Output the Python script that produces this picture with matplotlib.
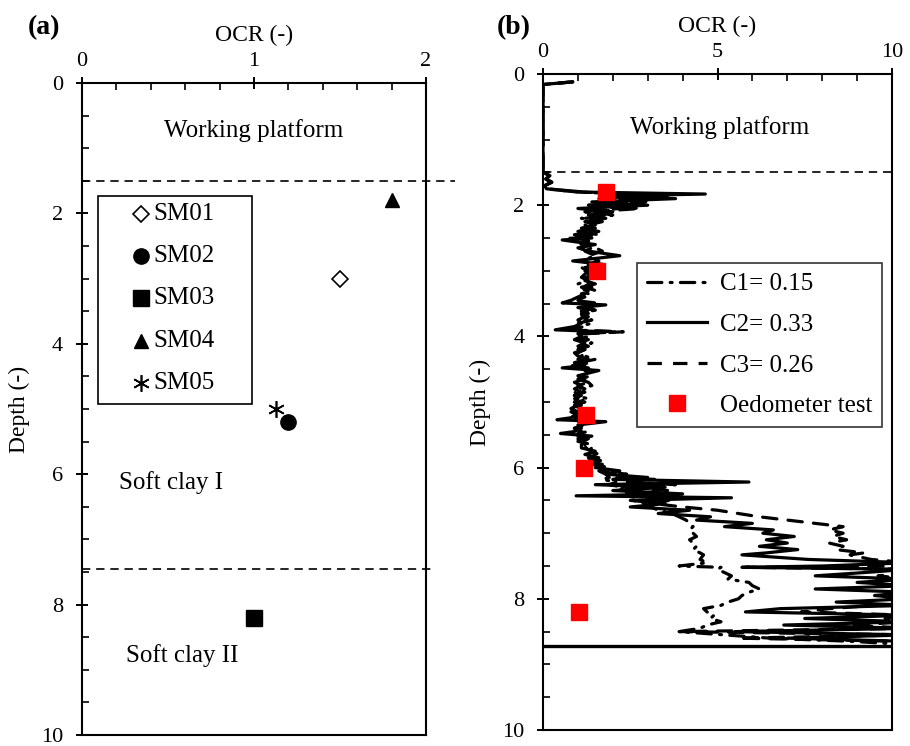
import matplotlib
matplotlib.use("Agg")
import matplotlib.pyplot as plt
from matplotlib.ticker import MultipleLocator
from matplotlib.lines import Line2D
from matplotlib.patches import Rectangle

plt.rcParams["font.family"] = ["Liberation Serif", "DejaVu Serif"]

# ---- panel (a): laboratory OCR by sample ----
SAMPLES = ["SM01", "SM02", "SM03", "SM04", "SM05"]
SAMPLE_OCR = [1.50, 1.20, 1.00, 1.80, 1.13]
SAMPLE_DEPTH = [3.00, 5.20, 8.20, 1.80, 5.00]

# ---- panel (b): oedometer points ----
OED_OCR = [1.80, 1.55, 1.22, 1.18, 1.02]
OED_DEPTH = [1.80, 3.00, 5.20, 6.00, 8.20]

# ---- panel (b): CPT based OCR profiles ----
DEPTH = [
    0.12, 0.16, 1.50, 1.55, 1.60, 1.65, 1.70, 1.75, 1.80, 1.83,
    1.86, 1.90, 1.95, 2.00, 2.05, 2.10, 2.15, 2.20, 2.25, 2.30,
    2.35, 2.40, 2.45, 2.50, 2.53, 2.60, 2.65, 2.70, 2.77, 2.85,
    2.90, 2.95, 3.00, 3.05, 3.10, 3.15, 3.20, 3.25, 3.30, 3.35,
    3.40, 3.45, 3.49, 3.52, 3.56, 3.60, 3.65, 3.70, 3.75, 3.80,
    3.85, 3.90, 3.93, 3.96, 4.00, 4.05, 4.10, 4.15, 4.20, 4.25,
    4.30, 4.35, 4.40, 4.45, 4.48, 4.52, 4.60, 4.65, 4.70, 4.75,
    4.80, 4.85, 4.90, 4.95, 5.00, 5.05, 5.10, 5.15, 5.20, 5.24,
    5.27, 5.30, 5.35, 5.40, 5.45, 5.48, 5.52, 5.56, 5.60, 5.65,
    5.70, 5.75, 5.80, 5.85, 5.90, 5.95, 6.00, 6.05, 6.10, 6.15,
    6.18, 6.22, 6.26, 6.30, 6.35, 6.40, 6.43, 6.46, 6.50, 6.55,
    6.60, 6.65, 6.70, 6.75, 6.80, 6.85, 6.90, 6.95, 7.00, 7.05,
    7.10, 7.15, 7.20, 7.25, 7.30, 7.33, 7.40, 7.45, 7.50, 7.52,
    7.55, 7.60, 7.65, 7.70, 7.75, 7.80, 7.85, 7.90, 7.95, 8.00,
    8.05, 8.10, 8.15, 8.20, 8.25, 8.30, 8.35, 8.40, 8.45, 8.50,
    8.55, 8.60, 8.65, 8.70,
]

OCR_C1 = [
    0.85, 0.00, 0.00, 0.20, 0.08, 0.25, 0.05, 0.10, 1.00, 2.50,
    2.60, 1.60, 2.40, 1.30, 2.20, 1.20, 1.80, 1.10, 1.60, 1.20,
    1.40, 1.00, 1.50, 0.80, 1.30, 1.00, 1.40, 1.20, 1.50, 1.10,
    1.40, 1.10, 1.30, 1.20, 1.10, 1.30, 1.00, 1.40, 1.10, 1.30,
    1.10, 1.00, 1.20, 1.40, 1.10, 1.50, 1.00, 1.30, 1.20, 1.40,
    1.00, 0.80, 2.10, 1.10, 1.30, 1.00, 1.40, 1.10, 1.20, 1.00,
    1.20, 1.50, 1.00, 1.30, 1.10, 1.40, 1.20, 1.00, 1.30, 1.40,
    1.00, 1.20, 0.90, 1.30, 1.00, 1.10, 0.90, 1.20, 1.00, 0.90,
    1.10, 1.00, 1.20, 0.90, 1.10, 1.20, 1.00, 1.30, 1.10, 1.20,
    1.40, 1.30, 1.50, 1.40, 1.60, 1.50, 1.70, 1.60, 1.80, 1.90,
    1.70, 2.10, 1.90, 2.30, 2.20, 2.50, 2.40, 2.70, 2.60, 2.90,
    3.10, 3.30, 3.70, 3.90, 4.10, 4.20, 4.30, 4.20, 4.30, 4.40,
    4.20, 4.30, 4.40, 4.30, 4.50, 4.60, 4.50, 4.70, 3.90, 5.10,
    5.00, 5.20, 5.40, 5.30, 5.90, 6.00, 6.20, 5.90, 5.70, 5.60,
    5.30, 5.10, 4.60, 4.70, 4.90, 4.80, 5.10, 4.70, 4.50, 3.90,
    5.20, 6.50, 8.90, 10.50,
]

OCR_C2 = [
    0.85, 0.00, 0.00, 0.20, 0.08, 0.25, 0.05, 0.10, 1.20, 4.65,
    1.80, 3.80, 1.40, 3.00, 1.00, 2.00, 1.30, 1.80, 1.20, 1.50,
    1.10, 1.60, 0.90, 1.40, 0.55, 1.50, 1.00, 1.30, 2.20, 0.85,
    1.70, 1.20, 1.50, 1.30, 1.40, 1.20, 1.50, 1.10, 1.30, 1.20,
    1.00, 0.80, 0.55, 1.80, 1.00, 1.30, 1.10, 1.20, 1.00, 1.10,
    0.90, 0.35, 1.80, 1.00, 1.10, 0.90, 1.20, 1.00, 1.20, 0.90,
    1.00, 1.30, 0.90, 1.10, 0.55, 1.60, 1.00, 1.20, 0.90, 1.10,
    0.90, 1.10, 0.90, 1.00, 0.90, 1.00, 0.80, 1.00, 0.90, 0.80,
    0.40, 1.80, 1.00, 1.10, 0.90, 0.50, 1.40, 1.00, 1.20, 1.10,
    1.10, 1.50, 1.20, 1.60, 1.30, 1.70, 1.50, 2.20, 1.80, 3.00,
    2.00, 5.90, 1.50, 3.50, 2.00, 4.00, 0.95, 5.40, 2.50, 3.50,
    2.50, 4.20, 3.30, 4.80, 4.40, 6.00, 5.20, 6.60, 6.30, 7.20,
    6.40, 7.00, 6.20, 7.30, 6.40, 5.70, 7.60, 10.50, 8.00, 5.70,
    10.50, 9.20, 7.80, 10.50, 9.00, 10.50, 7.80, 10.50, 9.50, 10.50,
    8.40, 10.50, 6.80, 5.80, 10.50, 7.50, 10.50, 6.90, 10.50, 5.50,
    10.50, 7.00, 10.50, 10.50,
]

OCR_C3 = [
    0.85, 0.00, 0.00, 0.20, 0.08, 0.25, 0.05, 0.10, 1.00, 3.00,
    3.60, 2.20, 3.10, 1.50, 2.80, 1.40, 2.00, 1.20, 1.70, 1.30,
    1.50, 1.00, 1.60, 0.70, 1.40, 1.10, 1.50, 1.70, 1.30, 1.60,
    1.30, 1.50, 1.20, 1.60, 1.20, 1.40, 1.30, 1.20, 1.50, 1.10,
    1.20, 0.90, 1.50, 1.20, 1.40, 1.00, 1.30, 1.10, 1.40, 1.00,
    1.20, 0.60, 2.30, 1.20, 1.00, 1.30, 1.00, 1.30, 1.00, 1.20,
    1.10, 1.00, 1.40, 0.80, 1.30, 1.20, 1.40, 1.00, 1.30, 1.00,
    1.20, 0.90, 1.10, 0.90, 1.20, 0.90, 1.10, 0.80, 1.10, 0.90,
    1.20, 1.00, 1.20, 0.90, 1.30, 1.00, 1.10, 1.30, 1.00, 1.40,
    1.20, 1.40, 1.60, 1.30, 1.70, 1.40, 1.90, 1.60, 2.40, 2.00,
    3.20, 2.40, 3.80, 2.20, 3.60, 2.50, 3.20, 3.00, 3.60, 3.20,
    4.00, 5.00, 5.60, 6.20, 7.00, 7.80, 8.60, 8.20, 8.60, 8.30,
    8.70, 8.20, 8.60, 8.40, 9.20, 8.80, 9.40, 10.50, 10.50, 5.80,
    10.50, 10.50, 9.60, 10.50, 10.50, 9.80, 10.50, 10.50, 10.50, 10.50,
    10.50, 9.50, 8.20, 7.40, 10.50, 9.80, 10.50, 8.80, 10.50, 3.90,
    10.50, 5.60, 10.50, 10.50,
]

PROFILE_END = 8.72
LAYER_TOP = 1.5
LAYER_MID = 7.45

TICK_SIZE = 16
LABEL_SIZE = 17
TEXT_SIZE = 18

FIG_W, FIG_H = 910, 746
# axes boxes in pixels: left, top, right, bottom
BOX_A = (82, 83, 426, 735)
BOX_B = (543, 74, 892, 730)


def add_axes_px(fig, box):
    left, top, right, bottom = box
    return fig.add_axes([left / FIG_W, 1 - bottom / FIG_H,
                         (right - left) / FIG_W, (bottom - top) / FIG_H])


def px_to_axes(box, x, y):
    left, top, right, bottom = box
    return (x - left) / (right - left), 1 - (y - top) / (bottom - top)


def style_axis(ax, xmax, xmajor, xminor):
    ax.set_xlim(0, xmax)
    ax.set_ylim(10, 0)
    ax.xaxis.tick_top()
    ax.xaxis.set_label_position("top")
    ax.xaxis.set_major_locator(MultipleLocator(xmajor))
    ax.xaxis.set_minor_locator(MultipleLocator(xminor))
    ax.yaxis.set_major_locator(MultipleLocator(2))
    ax.yaxis.set_minor_locator(MultipleLocator(0.5))
    ax.tick_params(which="major", direction="inout", length=9, width=1.4,
                   labelsize=TICK_SIZE)
    ax.tick_params(which="minor", direction="in", length=5, width=1.2)
    ax.tick_params(axis="x", which="both", top=True, bottom=False, pad=4)
    ax.tick_params(axis="y", which="both", left=True, right=False, pad=9)
    for spine in ax.spines.values():
        spine.set_linewidth(1.5)
    ax.set_xlabel("OCR (-)", fontsize=LABEL_SIZE, labelpad=8)
    ax.set_ylabel("Depth (-)", fontsize=LABEL_SIZE, labelpad=8)


def main():
    fig = plt.figure(figsize=(FIG_W / 100, FIG_H / 100), dpi=100)
    ax_a = add_axes_px(fig, BOX_A)
    ax_b = add_axes_px(fig, BOX_B)

    # ---------------- (a) ----------------
    style_axis(ax_a, 2, 1, 0.2)

    markers = {
        "SM01": dict(marker="D", markersize=8, markerfacecolor="white",
                     markeredgecolor="black", markeredgewidth=1.2),
        "SM02": dict(marker="o", markersize=11, color="black"),
        "SM03": dict(marker="s", markersize=11, color="black"),
        "SM04": dict(marker="^", markersize=10, color="black"),
        "SM05": dict(marker=(6, 2, 0), markersize=12, color="black",
                     markeredgewidth=1.2),
    }
    for name, ocr, depth in zip(SAMPLES, SAMPLE_OCR, SAMPLE_DEPTH):
        ax_a.plot([ocr], [depth], linestyle="none", clip_on=False,
                  **markers[name])

    ax_a.plot([0, 2.17], [LAYER_TOP, LAYER_TOP], color="black", lw=1.2,
              linestyle=(0, (5, 3.5)), clip_on=False)
    ax_a.plot([0, 2.05], [LAYER_MID, LAYER_MID], color="black", lw=1.2,
              linestyle=(0, (5, 3.5)), clip_on=False)

    ax_a.text(1.0, 0.73, "Working platform", fontsize=TEXT_SIZE,
              ha="center", va="center")
    ax_a.text(0.52, 6.12, "Soft clay I", fontsize=TEXT_SIZE,
              ha="center", va="center")
    ax_a.text(0.58, 8.78, "Soft clay II", fontsize=TEXT_SIZE,
              ha="center", va="center")

    # legend box drawn by hand so the padding matches the original
    x0, y0 = px_to_axes(BOX_A, 98, 404)
    x1, y1 = px_to_axes(BOX_A, 252, 196)
    ax_a.add_patch(Rectangle((x0, y0), x1 - x0, y1 - y0,
                             transform=ax_a.transAxes, fill=False,
                             edgecolor="black", lw=1.2))
    row_y = [214, 256, 298, 341, 383]
    for name, ry in zip(SAMPLES, row_y):
        mx, my = px_to_axes(BOX_A, 141, ry)
        tx, _ = px_to_axes(BOX_A, 153, ry)
        ax_a.plot([mx], [my], transform=ax_a.transAxes, linestyle="none",
                  **markers[name])
        ax_a.text(tx, my, name, transform=ax_a.transAxes,
                  fontsize=TEXT_SIZE, ha="left", va="center")

    # ---------------- (b) ----------------
    style_axis(ax_b, 10, 5, 1)

    lw = 2.3
    dashdot = (0, (4.5, 2.6, 0.6, 2.6))
    dashed = (0, (4.5, 3.5))
    ax_b.plot(OCR_C1, DEPTH, color="black", lw=lw, linestyle=dashdot,
              dash_capstyle="round")
    ax_b.plot(OCR_C3, DEPTH, color="black", lw=lw, linestyle=dashed,
              dash_capstyle="round")
    ax_b.plot(OCR_C2, DEPTH, color="black", lw=lw,
              solid_capstyle="round", solid_joinstyle="round")
    ax_b.axhline(PROFILE_END, color="black", lw=2.4)
    ax_b.axhline(LAYER_TOP, color="black", lw=1.2, linestyle=(0, (5, 3.5)))

    sq, = ax_b.plot(OED_OCR, OED_DEPTH, linestyle="none", marker="s",
                    markersize=11, color="#ff0000", zorder=5)

    ax_b.text(5.07, 0.81, "Working platform", fontsize=TEXT_SIZE,
              ha="center", va="center")

    h1 = Line2D([], [], color="black", lw=lw, linestyle=dashdot,
                dash_capstyle="round")
    h2 = Line2D([], [], color="black", lw=lw)
    h3 = Line2D([], [], color="black", lw=lw, linestyle=dashed)
    lx, ly = px_to_axes(BOX_B, 637, 263)
    leg_b = ax_b.legend([h1, h2, h3, sq],
                        ["C1= 0.15", "C2= 0.33", "C3= 0.26",
                         "Oedometer test"],
                        loc="upper left", bbox_to_anchor=(lx, ly),
                        borderaxespad=0, fontsize=TEXT_SIZE, frameon=True,
                        fancybox=False, edgecolor="black", numpoints=1,
                        handlelength=2.4, handletextpad=0.5,
                        labelspacing=0.72, borderpad=0.4)
    leg_b.get_frame().set_linewidth(1.2)

    fig.text(0.031, 0.963, "(a)", fontsize=20, fontweight="bold",
             ha="left", va="center")
    fig.text(0.546, 0.963, "(b)", fontsize=20, fontweight="bold",
             ha="left", va="center")

    fig.savefig("out.png", dpi=100)
    plt.close(fig)


if __name__ == "__main__":
    main()
